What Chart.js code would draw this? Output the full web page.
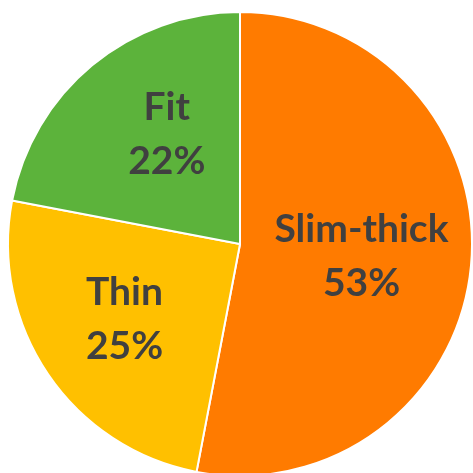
<!DOCTYPE html>
<html>
<head>
<meta charset="utf-8">
<script src="https://cdn.jsdelivr.net/npm/chart.js@4"></script>
<style>
  html, body { margin: 0; padding: 0; background: #fff; overflow: hidden; }
  canvas { display: block; }
</style>
</head>
<body>
<canvas id="chartBody" width="473" height="480"></canvas>
<script>
const categories = ["Slim-thick", "Thin", "Fit"];
const shares = [53, 25, 22];
const sliceColors = ["#ff7b00", "#ffc000", "#5cb33b"];

// label placement: distance from the centre (share of radius) and a small turn
const labelDepth = [0.526, 0.59, 0.575];
const labelTurn = [0, 0.03, 0.11];

// category name and percent written inside each slice
const sliceLabels = {
    id: "sliceLabels",
    afterDatasetsDraw(chart) {
        const ctx = chart.ctx;
        const arcs = chart.getDatasetMeta(0).data;
        ctx.save();
        ctx.fillStyle = "#404040";
        ctx.font = "bold 39px Lato";
        ctx.textAlign = "center";
        ctx.textBaseline = "alphabetic";
        arcs.forEach((arc, i) => {
            const mid = (arc.startAngle + arc.endAngle) / 2 + labelTurn[i];
            const r = arc.outerRadius * labelDepth[i];
            const x = arc.x + Math.cos(mid) * r;
            const y = arc.y + Math.sin(mid) * r;
            ctx.fillText(categories[i], x, y - 13);
            ctx.fillText(shares[i] + "%", x, y + 41);
        });
        ctx.restore();
    }
};

new Chart(document.getElementById("chartBody"), {
    type: "pie",
    data: {
        labels: categories,
        datasets: [{
            data: shares,
            backgroundColor: sliceColors,
            borderColor: "#ffffff",
            borderWidth: 2
        }]
    },
    options: {
        responsive: false,
        animation: false,
        layout: { padding: { left: 7, right: 0, top: 11, bottom: 3 } },
        plugins: {
            legend: { display: false },
            tooltip: { enabled: false }
        }
    },
    plugins: [sliceLabels]
});
</script>
</body>
</html>
